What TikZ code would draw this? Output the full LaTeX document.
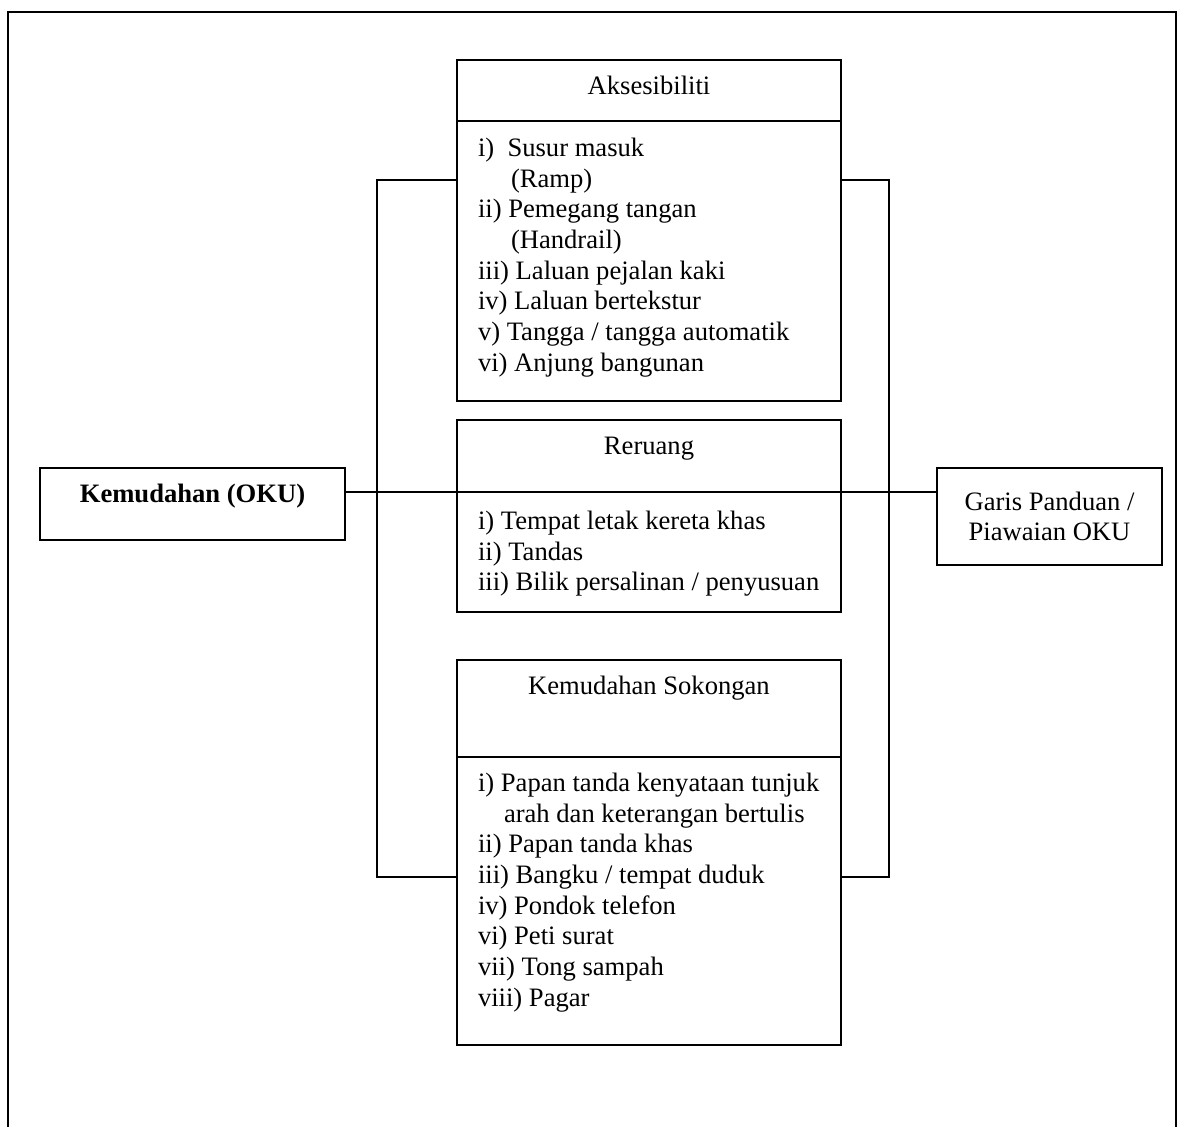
\documentclass[tikz,border=0pt]{standalone}
\usepackage{fontspec}
\setmainfont{Liberation Serif}
\usetikzlibrary{
	positioning
}

\begin{document}
\begin{tikzpicture}[
	x=0.5pt, y=-0.5pt,
	line width=1pt,
	font=\fontsize{13.3}{15.35}\selectfont,
	box/.style={draw,rectangle,inner sep=0pt,outer sep=0pt,minimum width=192pt},
	head/.style={anchor=base,inner sep=0pt},
	items/.style={anchor=north west,align=left,inner sep=0pt}
]
	\useasboundingbox (0,0) rectangle (1180,1127);
	\draw (8,1127) -- (8,12) -- (1176,12) -- (1176,1127);

	\node [box,minimum height=30.5pt,anchor=north] (akshead) at (649,60)  {};
	\node [box,minimum height=140pt,below=0pt of akshead]      (akslist)  {};
	\node [box,minimum height=36pt,anchor=north]  (rerhead) at (649,420) {};
	\node [box,minimum height=60pt,below=0pt of rerhead]       (rerlist)  {};
	\node [box,minimum height=48.5pt,anchor=north] (sokhead) at (649,660) {};
	\node [box,minimum height=144pt,below=0pt of sokhead]      (soklist)  {};

	\node [head] at ([yshift=-17.5pt]akshead.north) {Aksesibiliti};
	\node [head] at ([yshift=-17.5pt]rerhead.north) {Reruang};
	\node [head] at ([yshift=-17.5pt]sokhead.north) {Kemudahan Sokongan};

	\node [items] (aksitems) at (477,137) {i)~~Susur masuk\\
		\hspace*{16.5pt}(Ramp)\\
		ii) Pemegang tangan\\
		\hspace*{16.5pt}(Handrail)\\
		iii) Laluan pejalan kaki\\
		iv) Laluan bertekstur\\
		v) Tangga / tangga automatik\\
		vi) Anjung bangunan};
	\node [items] (reritems) at (477,510) {i) Tempat letak kereta khas\\
		ii) Tandas\\
		iii) Bilik persalinan / penyusuan};
	\node [items] (sokitems) at (477,772) {i) Papan tanda kenyataan tunjuk\\
		\hspace*{13pt}arah dan keterangan bertulis\\
		ii) Papan tanda khas\\
		iii) Bangku / tempat duduk\\
		iv) Pondok telefon\\
		vi) Peti surat\\
		vii) Tong sampah\\
		viii) Pagar};

	\node [draw,minimum width=152.5pt,minimum height=36pt,text height=9pt,text depth=10pt,
		font=\fontsize{13.3}{15.35}\selectfont\bfseries] (oku) at (192.5,504) {Kemudahan (OKU)};
	\node [draw,align=center,minimum width=112.5pt,minimum height=48.5pt] (garis) at (1049.5,516.5)
		{Garis Panduan /\\ Piawaian OKU};

	\coordinate (lt) at (377,180);
	\coordinate (lb) at (377,877);
	\coordinate (rt) at (889,180);
	\coordinate (rb) at (889,877);

	\draw (akslist.west |- lt) -- (lt) -- (lb) -- (soklist.west |- lb);
	\draw (akslist.east |- rt) -- (rt) -- (rb) -- (soklist.east |- rb);
	\draw (oku.east |- rerlist.north) -- (garis.west |- rerlist.north);
\end{tikzpicture}
\end{document}
